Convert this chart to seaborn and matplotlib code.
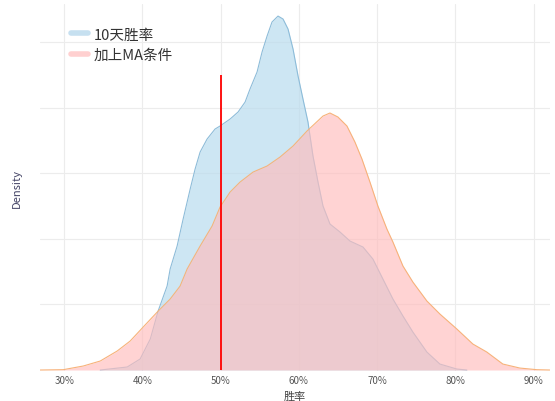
import matplotlib
matplotlib.use("Agg")
import matplotlib.pyplot as plt
from matplotlib.lines import Line2D
import seaborn as sns
import pandas as pd

# ---- data ----
blue_x = [0.346, 0.3805, 0.397, 0.410, 0.420, 0.4315, 0.4354, 0.4443, 0.452, 0.461,
          0.4673, 0.4737, 0.4826, 0.4928, 0.4992, 0.512, 0.5222, 0.5312, 0.5375, 0.5465,
          0.5529, 0.5593, 0.5656, 0.5733, 0.5797, 0.5861, 0.5925, 0.5989, 0.6052, 0.6116,
          0.618, 0.6244, 0.6308, 0.6397, 0.6525, 0.6653, 0.6819, 0.6946, 0.7074, 0.7202,
          0.733, 0.7457, 0.7636, 0.7802, 0.8019, 0.8147]
blue_y = [0.000, 0.046, 0.168, 0.473, 0.899, 1.280, 1.540, 1.890, 2.302, 2.759,
          3.064, 3.323, 3.521, 3.674, 3.720, 3.826, 3.933, 4.085, 4.284, 4.543,
          4.848, 5.091, 5.305, 5.396, 5.351, 5.198, 4.893, 4.482, 4.131, 3.780,
          3.262, 2.866, 2.500, 2.226, 2.104, 1.966, 1.875, 1.692, 1.387, 1.082,
          0.823, 0.579, 0.274, 0.091, 0.015, 0.000]
red_x = [0.2693, 0.2987, 0.3243, 0.346, 0.3677, 0.3843, 0.4009, 0.4201, 0.4354, 0.4481,
         0.4571, 0.4737, 0.489, 0.4992, 0.512, 0.5248, 0.5414, 0.5593, 0.5759, 0.5925,
         0.6103, 0.6308, 0.6397, 0.6499, 0.6614, 0.6716, 0.6806, 0.6908, 0.701, 0.7125,
         0.7202, 0.733, 0.7457, 0.7636, 0.7802, 0.8019, 0.8224, 0.8402, 0.8607, 0.8824,
         0.9041, 0.9207]
red_y = [0.000, 0.005, 0.061, 0.137, 0.290, 0.442, 0.655, 0.899, 1.082, 1.280,
         1.540, 1.890, 2.195, 2.485, 2.713, 2.866, 3.018, 3.110, 3.247, 3.415,
         3.643, 3.872, 3.918, 3.857, 3.720, 3.476, 3.216, 2.866, 2.500, 2.149,
         1.951, 1.585, 1.341, 1.052, 0.854, 0.625, 0.396, 0.274, 0.091, 0.030,
         0.005, 0.000]
series_names = ["10天胜率", "加上MA条件"]
x_ticks = [0.3, 0.4, 0.5, 0.6, 0.7, 0.8, 0.9]
x_tick_labels = ["30%", "40%", "50%", "60%", "70%", "80%", "90%"]
threshold_x = 0.5
threshold_height = 4.5

sns.set_theme(style="white")
plt.rcParams["font.family"] = ["Noto Sans CJK SC", "DejaVu Sans"]

fig = plt.figure(figsize=(5.55, 4.02), dpi=100)
ax = fig.add_axes([40 / 555, 30 / 402, 510 / 555, 367 / 402])

blue_df = pd.DataFrame({"x": blue_x, "y": blue_y})
red_df = pd.DataFrame({"x": red_x, "y": red_y})

blue_fill = "#b9dcee"
blue_edge = "#8dbcd9"
red_fill = "#ffbcbc"
red_edge = "#f7b27a"

ax.fill_between(blue_df["x"], 0, blue_df["y"], color=blue_fill, alpha=0.7, lw=0, zorder=2)
sns.lineplot(data=blue_df, x="x", y="y", ax=ax, color=blue_edge, lw=0.8, zorder=3)
ax.fill_between(red_df["x"], 0, red_df["y"], color=red_fill, alpha=0.65, lw=0, zorder=4)
sns.lineplot(data=red_df, x="x", y="y", ax=ax, color=red_edge, lw=0.8, zorder=5)

ax.vlines(threshold_x, 0, threshold_height, color="red", lw=1.3, zorder=6)

ax.set_xlim(0.269, 0.921)
ax.set_ylim(-0.015, 5.58)
ax.set_xticks(x_ticks)
ax.set_xticklabels(x_tick_labels, fontsize=7, color="#555555")
ax.set_yticks([1, 2, 3, 4, 5])
ax.set_yticklabels([])
ax.tick_params(axis="both", length=0, pad=3)
ax.grid(True, color="#ececec", lw=0.8)
ax.set_axisbelow(True)
for s in ax.spines.values():
    s.set_visible(False)

ax.set_xlabel("胜率", fontsize=8, color="#444444", labelpad=4)
ax.set_ylabel("Density", fontsize=8, color="#444466", labelpad=10)

handles = [Line2D([0], [0], color="#c6e0f0", lw=4),
           Line2D([0], [0], color="#ffd0d0", lw=4)]
leg = ax.legend(handles, series_names, loc="upper left", bbox_to_anchor=(0.035, 0.972),
                frameon=False, fontsize=10.5, handlelength=1.15, handletextpad=0.4,
                labelspacing=0.45)
for t in leg.get_texts():
    t.set_color("#333333")

fig.savefig("out.png", dpi=100)
